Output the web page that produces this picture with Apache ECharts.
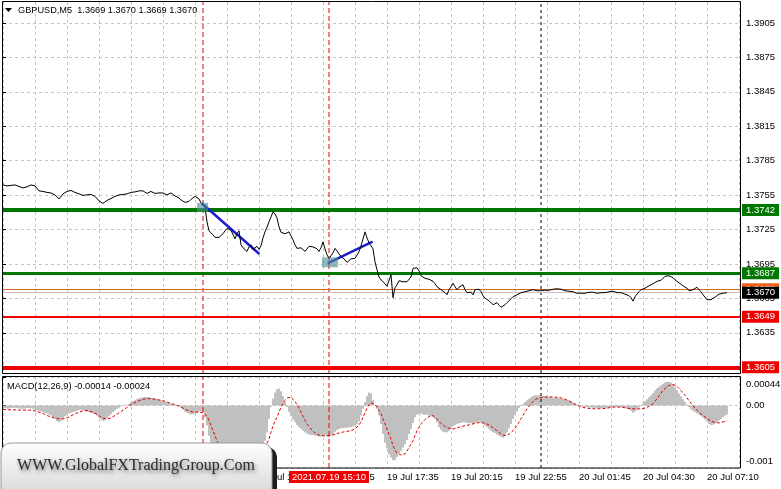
<!DOCTYPE html>
<html><head><meta charset="utf-8">
<script src="https://cdn.jsdelivr.net/npm/echarts@6/dist/echarts.min.js"></script>
<style>html,body{margin:0;padding:0;background:#fff;overflow:hidden}#c{width:781px;height:489px}</style>
</head><body><div id="c"></div>
<script>
// ---------- DATA ----------
const symbolTitle = 'GBPUSD,M5  1.3669 1.3670 1.3669 1.3670';
const macdTitle = 'MACD(12,26,9) -0.00014 -0.00024';
// bar index of each time label (M5 bars) and its text
const xLabelIdx = [0, 32, 64, 96, 128, 160, 192, 224, 256, 288, 320, 352];
const xLabels = ['19 Jul 01:35','19 Jul 04:15','19 Jul 06:55','19 Jul 09:35','19 Jul 12:15','19 Jul 14:55',
                 '19 Jul 17:35','19 Jul 20:15','19 Jul 22:55','20 Jul 01:45','20 Jul 04:30','20 Jul 07:10'];
const priceTicks = [1.3605,1.3635,1.3665,1.3695,1.3725,1.3755,1.3785,1.3815,1.3845,1.3875,1.3905];
const macdTickValues = [-0.00097, 0, 0.00044];
const macdTickLabels = ['-0.001', '0.00', '0.00044'];

// close prices, one per M5 bar
const closes = [
1.37639,1.37635,1.37630,1.37630,1.37635,1.37639,1.37639,1.37635,1.37626,1.37622,
1.37613,1.37613,1.37622,1.37630,1.37639,1.37643,1.37630,1.37613,1.37587,1.37574,
1.37582,1.37578,1.37574,1.37569,1.37569,1.37561,1.37552,1.37543,1.37517,1.37504,
1.37561,1.37578,1.37582,1.37587,1.37591,1.37578,1.37574,1.37565,1.37561,1.37552,
1.37548,1.37543,1.37552,1.37561,1.37556,1.37543,1.37539,1.37526,1.37500,1.37487,
1.37478,1.37491,1.37504,1.37517,1.37521,1.37530,1.37539,1.37543,1.37552,1.37552,
1.37556,1.37561,1.37561,1.37569,1.37574,1.37578,1.37578,1.37582,1.37587,1.37591,
1.37587,1.37574,1.37565,1.37574,1.37582,1.37574,1.37565,1.37561,1.37569,1.37578,
1.37569,1.37556,1.37552,1.37561,1.37569,1.37556,1.37543,1.37539,1.37526,1.37508,
1.37500,1.37487,1.37478,1.37495,1.37513,1.37526,1.37539,1.37530,1.37517,1.37482,
1.37465,
1.37447,1.37317,1.37239,1.37256,1.37204,1.37182,1.37173,1.37182,1.37195,1.37213,
1.37239,1.37260,1.37252,1.37243,1.37234,1.37169,1.37213,1.37239,1.37117,1.37091,
1.37104,1.37060,1.37099,1.37117,1.37078,1.37091,1.37104,1.37078,1.37108,1.37178,
1.37230,1.37269,1.37317,1.37360,1.37404,1.37386,1.37352,1.37273,1.37226,1.37234,
1.37213,1.37204,1.37230,1.37221,1.37160,1.37117,1.37086,1.37073,1.37091,1.37108,
1.37060,1.37082,1.37104,1.37121,1.37099,1.37104,1.37082,1.37060,1.37091,1.37143,
1.37082,1.37030,1.36999,1.37021,1.37047,1.37086,1.37064,1.37038,1.37017,1.37004,
1.36986,1.36964,1.36977,1.36995,1.37004,1.36999,1.37012,1.37056,1.37108,1.37169,
1.37230,1.37178,
1.37134,1.37143,1.37082,1.36969,1.36899,1.36838,1.36812,1.36799,1.36778,1.36756,
1.36765,1.36856,1.36656,1.36743,1.36769,1.36804,1.36812,1.36795,1.36799,1.36795,
1.36808,1.36838,1.36912,1.36899,1.36917,1.36890,1.36847,1.36838,1.36825,1.36834,
1.36817,1.36808,1.36799,1.36778,1.36752,1.36739,1.36726,1.36713,1.36700,1.36682,
1.36726,1.36752,1.36782,1.36752,1.36726,1.36747,1.36760,1.36769,1.36726,1.36700,
1.36717,1.36704,1.36682,1.36726,1.36743,1.36730,1.36708,1.36674,1.36652,1.36639,
1.36630,1.36617,1.36595,1.36604,1.36613,1.36591,1.36573,1.36556,1.36595,1.36613,
1.36630,1.36647,1.36665,1.36678,1.36682,1.36695,1.36700,1.36704,1.36708,1.36713,
1.36717,1.36721,1.36726,1.36721,1.36717,1.36713,1.36717,1.36726,1.36721,1.36717,
1.36721,1.36726,1.36730,1.36726,1.36734,1.36739,1.36730,1.36721,1.36717,1.36721,
1.36713,1.36717,1.36708,1.36704,1.36695,1.36691,1.36695,1.36700,1.36695,1.36700,
1.36704,1.36700,1.36704,1.36700,1.36695,1.36691,1.36700,1.36704,1.36700,1.36704,
1.36708,1.36713,1.36713,1.36704,1.36700,1.36695,1.36700,1.36691,1.36687,1.36682,
1.36674,1.36656,1.36626,1.36665,1.36687,1.36708,1.36726,1.36730,1.36739,1.36743,
1.36760,1.36769,1.36778,1.36795,1.36799,1.36804,1.36808,1.36825,1.36843,1.36856,
1.36847,1.36843,1.36830,1.36812,1.36799,1.36786,1.36769,1.36760,1.36752,1.36739,
1.36717,1.36704,1.36726,1.36739,1.36747,1.36726,1.36708,1.36682,1.36665,1.36639,
1.36626,1.36639,1.36652,1.36661,1.36678,1.36687,1.36691,1.36695,1.36700,1.36700
];

// MACD main (histogram) per bar
const macdMain = [
-42e-6,-42e-6,-47e-6,-47e-6,-42e-6,-42e-6,-37e-6,-42e-6,-47e-6,-52e-6,-52e-6,-47e-6,-42e-6,-42e-6,-47e-6,-52e-6,
-63e-6,-73e-6,-84e-6,-94e-6,-104e-6,-115e-6,-125e-6,-136e-6,-157e-6,-183e-6,-209e-6,-240e-6,-261e-6,-235e-6,-198e-6,-167e-6,-146e-6,
-125e-6,-115e-6,-104e-6,-94e-6,-84e-6,-73e-6,-68e-6,-73e-6,-84e-6,-94e-6,-104e-6,-115e-6,-125e-6,-136e-6,-157e-6,-188e-6,-219e-6,-240e-6,-230e-6,-198e-6,-167e-6,
-136e-6,-104e-6,-78e-6,-52e-6,-37e-6,-21e-6,-10e-6,0,10e-6,26e-6,47e-6,68e-6,84e-6,99e-6,110e-6,120e-6,125e-6,131e-6,131e-6,125e-6,120e-6,115e-6,110e-6,99e-6,89e-6,
78e-6,68e-6,57e-6,47e-6,37e-6,26e-6,21e-6,10e-6,5e-6,0,-31e-6,-63e-6,-94e-6,-115e-6,-131e-6,-141e-6,-136e-6,-125e-6,-110e-6,-94e-6,-84e-6,-104e-6,
-183e-6,-313e-6,-470e-6,-574e-6,-653e-6,-721e-6,-773e-6,-809e-6,-825e-6,-825e-6,-815e-6,-799e-6,-783e-6,-773e-6,-773e-6,-783e-6,-794e-6,-794e-6,-809e-6,-836e-6,
-846e-6,-851e-6,-851e-6,-846e-6,-836e-6,-825e-6,-809e-6,-794e-6,-757e-6,-653e-6,-548e-6,-418e-6,-209e-6,-26e-6,104e-6,198e-6,251e-6,261e-6,219e-6,146e-6,52e-6,-26e-6,
-104e-6,-167e-6,-219e-6,-261e-6,-303e-6,-339e-6,-366e-6,-392e-6,-418e-6,-439e-6,-449e-6,-460e-6,-460e-6,-470e-6,-475e-6,-480e-6,-486e-6,-470e-6,-460e-6,-480e-6,-496e-6,-470e-6,-444e-6,
-407e-6,-381e-6,-366e-6,-355e-6,-350e-6,-345e-6,-345e-6,-339e-6,-334e-6,-324e-6,-313e-6,-287e-6,-251e-6,-157e-6,-52e-6,52e-6,146e-6,198e-6,
183e-6,78e-6,0,-52e-6,-157e-6,-287e-6,-444e-6,-574e-6,-668e-6,-757e-6,-809e-6,-851e-6,-846e-6,-799e-6,-742e-6,-705e-6,-653e-6,-601e-6,-538e-6,-444e-6,
-366e-6,-272e-6,-183e-6,-146e-6,-131e-6,-131e-6,-141e-6,-146e-6,-146e-6,-157e-6,-167e-6,-183e-6,-209e-6,-261e-6,-339e-6,-381e-6,-407e-6,-418e-6,-418e-6,-392e-6,
-366e-6,-324e-6,-303e-6,-287e-6,-277e-6,-272e-6,-261e-6,-261e-6,-272e-6,-277e-6,-277e-6,-287e-6,-272e-6,-261e-6,-251e-6,-261e-6,-287e-6,-313e-6,-339e-6,-366e-6,
-392e-6,-418e-6,-428e-6,-449e-6,-470e-6,-486e-6,-501e-6,-470e-6,-418e-6,-355e-6,-287e-6,-209e-6,-146e-6,-94e-6,-42e-6,-10e-6,21e-6,52e-6,78e-6,104e-6,
131e-6,146e-6,157e-6,157e-6,157e-6,151e-6,146e-6,141e-6,136e-6,131e-6,125e-6,120e-6,115e-6,115e-6,110e-6,104e-6,99e-6,94e-6,89e-6,78e-6,
63e-6,42e-6,26e-6,16e-6,5e-6,-5e-6,-16e-6,-21e-6,-26e-6,-31e-6,-31e-6,-37e-6,-37e-6,-42e-6,-42e-6,-42e-6,-42e-6,-37e-6,-37e-6,-31e-6,
-26e-6,-26e-6,-21e-6,-21e-6,-26e-6,-26e-6,-31e-6,-37e-6,-47e-6,-63e-6,-84e-6,-115e-6,-94e-6,-63e-6,-31e-6,0,31e-6,63e-6,94e-6,125e-6,
157e-6,193e-6,230e-6,261e-6,287e-6,313e-6,334e-6,355e-6,366e-6,366e-6,355e-6,324e-6,282e-6,235e-6,183e-6,141e-6,94e-6,52e-6,10e-6,-26e-6,
-63e-6,-84e-6,-104e-6,-120e-6,-146e-6,-167e-6,-193e-6,-219e-6,-251e-6,-287e-6,-303e-6,-298e-6,-282e-6,-261e-6,-235e-6,-209e-6,-183e-6,-160e-6,-140e-6
];

// MACD signal line per bar
const macdSignal = [
-63e-6,-63e-6,-68e-6,-68e-6,-68e-6,-68e-6,-68e-6,-68e-6,-73e-6,-73e-6,-73e-6,-73e-6,-73e-6,-73e-6,-73e-6,-78e-6,
-84e-6,-94e-6,-104e-6,-115e-6,-125e-6,-141e-6,-157e-6,-167e-6,
-178e-6,-188e-6,-198e-6,-204e-6,-209e-6,-209e-6,-209e-6,-204e-6,-193e-6,
-178e-6,-162e-6,-146e-6,-131e-6,-115e-6,-104e-6,-94e-6,-84e-6,-78e-6,-78e-6,-84e-6,-94e-6,-104e-6,-120e-6,
-141e-6,-162e-6,-183e-6,-198e-6,-209e-6,-209e-6,-204e-6,
-193e-6,-178e-6,-157e-6,-136e-6,-115e-6,-94e-6,-73e-6,-52e-6,-31e-6,
-10e-6,10e-6,31e-6,47e-6,63e-6,73e-6,84e-6,94e-6,99e-6,104e-6,104e-6,104e-6,99e-6,94e-6,89e-6,84e-6,
78e-6,73e-6,63e-6,52e-6,42e-6,31e-6,21e-6,10e-6,0,-10e-6,
-26e-6,-42e-6,-57e-6,-73e-6,-84e-6,-94e-6,-99e-6,-104e-6,-104e-6,-104e-6,-110e-6,-115e-6,
-131e-6,-167e-6,-235e-6,-313e-6,-392e-6,-470e-6,-548e-6,-601e-6,-653e-6,-689e-6,-731e-6,-757e-6,-783e-6,-799e-6,-809e-6,-820e-6,-825e-6,-830e-6,-836e-6,-836e-6,
-836e-6,-836e-6,-836e-6,-830e-6,-825e-6,-809e-6,-794e-6,-768e-6,-742e-6,-700e-6,-653e-6,-585e-6,-522e-6,-418e-6,-313e-6,-245e-6,-183e-6,-104e-6,-26e-6,26e-6,78e-6,115e-6,131e-6,
125e-6,104e-6,63e-6,10e-6,-42e-6,-104e-6,-167e-6,-230e-6,-287e-6,-324e-6,-366e-6,-397e-6,-428e-6,-449e-6,-460e-6,-465e-6,-470e-6,-470e-6,-470e-6,-470e-6,
-465e-6,-460e-6,-449e-6,-439e-6,-428e-6,-418e-6,-413e-6,-407e-6,-402e-6,-397e-6,-392e-6,-381e-6,-366e-6,-339e-6,-303e-6,-251e-6,-188e-6,-115e-6,-42e-6,10e-6,
42e-6,26e-6,10e-6,-26e-6,-78e-6,-131e-6,-209e-6,-287e-6,-366e-6,-444e-6,-522e-6,-627e-6,-689e-6,-742e-6,-762e-6,-768e-6,-768e-6,-752e-6,-710e-6,-653e-6,
-601e-6,-548e-6,-470e-6,-392e-6,-339e-6,-287e-6,-251e-6,-219e-6,-193e-6,-172e-6,-157e-6,-157e-6,-178e-6,-209e-6,-245e-6,-277e-6,-303e-6,-324e-6,-345e-6,-355e-6,
-366e-6,-366e-6,-355e-6,-350e-6,-339e-6,-329e-6,-319e-6,-313e-6,-308e-6,-303e-6,-292e-6,-287e-6,-277e-6,-272e-6,-266e-6,-261e-6,-266e-6,-277e-6,-287e-6,-303e-6,
-324e-6,-345e-6,-366e-6,-392e-6,-418e-6,-444e-6,-465e-6,-470e-6,-460e-6,-444e-6,-418e-6,-392e-6,-355e-6,-313e-6,-261e-6,-209e-6,-157e-6,-104e-6,-52e-6,-10e-6,
26e-6,63e-6,89e-6,104e-6,115e-6,120e-6,125e-6,131e-6,131e-6,131e-6,131e-6,131e-6,131e-6,125e-6,120e-6,115e-6,104e-6,94e-6,84e-6,68e-6,
52e-6,37e-6,21e-6,5e-6,-10e-6,-21e-6,-31e-6,-37e-6,-42e-6,-47e-6,-52e-6,-52e-6,-52e-6,-52e-6,-52e-6,-52e-6,-52e-6,-47e-6,-42e-6,-37e-6,
-31e-6,-26e-6,-26e-6,-26e-6,-26e-6,-26e-6,-31e-6,-37e-6,-42e-6,-47e-6,-52e-6,-52e-6,-57e-6,-57e-6,-57e-6,-52e-6,-52e-6,-42e-6,-31e-6,-16e-6,
0,26e-6,63e-6,104e-6,146e-6,188e-6,230e-6,261e-6,287e-6,308e-6,319e-6,324e-6,313e-6,292e-6,261e-6,230e-6,193e-6,157e-6,115e-6,73e-6,
31e-6,-5e-6,-42e-6,-73e-6,-104e-6,-131e-6,-157e-6,-183e-6,-204e-6,-225e-6,-240e-6,-256e-6,-266e-6,-272e-6,-272e-6,-266e-6,-256e-6,-245e-6,-240e-6
];

// horizontal levels drawn on the chart
const levelPrices = [1.3742, 1.3687, 1.3649, 1.3605];
const askPrice = 1.3673;
const bidPrice = 1.3670;
// vertical markers (bar indices)
const markerBars = [100, 163];
const separatorBar = 269;
const selectedBar = 163;
const selectedTimeText = '2021.07.19 15:10';
// trend lines [[startBar,startPrice],[endBar,endPrice]]
const trendLines = [
  [[99.35, 1.37479], [128.2, 1.37037]],
  [[162.3, 1.36956], [184.8, 1.37144]]
];
// square markers
const boxBars = [99.75, 163.5];
const boxPrices = [1.37443, 1.36965];

// ---------- STYLES ----------
const FONT = '"Liberation Sans", Arial, sans-serif';
const GRID_COLOR = '#c4c4c4';
const LEVEL_STYLE = [
  {color: '#007800', width: 4},
  {color: '#007800', width: 3},
  {color: '#f00000', width: 2},
  {color: '#f00000', width: 4}
];
const BOX_SIZES = [[11, 9], [16, 10]];
const PRICE_MIN = 1.36, PRICE_MAX = 1.39233;
const MACD_MIN = macdTickValues[0], MACD_MAX = macdTickValues[2];

function priceLabel(bg, txt) {
  return {show: true, position: 'end', distance: 2, formatter: txt, color: '#fff', backgroundColor: bg,
          padding: [1, 4, 1, 4], fontSize: 9.5, fontFamily: FONT, lineHeight: 10};
}

// horizontal levels and trend lines as markLines on the price series
const priceMarks = [];
levelPrices.forEach((p, k) => priceMarks.push({yAxis: p, lineStyle: {color: LEVEL_STYLE[k].color, width: LEVEL_STYLE[k].width, type: 'solid'},
  label: priceLabel(LEVEL_STYLE[k].color, p.toFixed(4))}));
priceMarks.push({yAxis: askPrice, lineStyle: {color: '#d2691e', width: 1, type: 'solid'}, label: priceLabel('#f06018', askPrice.toFixed(4))});
priceMarks.push({yAxis: bidPrice, lineStyle: {color: '#cbbfcb', width: 1, type: 'solid'}, label: priceLabel('#000', bidPrice.toFixed(4))});
trendLines.forEach(t => priceMarks.push([
  {coord: t[0], lineStyle: {color: '#1c1cd2', width: 2.5, type: 'solid'}, label: {show: false}},
  {coord: t[1], lineStyle: {color: '#1c1cd2', width: 2.5, type: 'solid'}}
]));

// vertical marker lines drawn as two-point line series spanning each panel
function vLine(bar, gridIdx, color, dash) {
  const lo = gridIdx === 0 ? PRICE_MIN : MACD_MIN, hi = gridIdx === 0 ? PRICE_MAX : MACD_MAX;
  return {type: 'line', xAxisIndex: gridIdx, yAxisIndex: gridIdx, z: 4, silent: true, symbol: 'none', showSymbol: false,
          data: [[bar, lo], [bar, hi]], lineStyle: {color: color, width: 1, type: dash}};
}
const vSeries = [];
[0, 1].forEach(g => {
  markerBars.forEach(b => vSeries.push(vLine(b, g, '#ee0000', [5, 3])));
  vSeries.push(vLine(separatorBar, g, '#000000', [3, 3]));
});

const splitLineStyle = {show: true, lineStyle: {color: GRID_COLOR, type: [3, 3], width: 1}};

const option = {
  animation: false,
  backgroundColor: '#ffffff',
  textStyle: {fontFamily: FONT},
  grid: [
    {left: 3, right: 41, top: 2, height: 371, outerBoundsMode: 'none', containLabel: false},
    {left: 3, right: 41, top: 377, height: 91, outerBoundsMode: 'none', containLabel: false}
  ],
  xAxis: [
    {type: 'value', gridIndex: 0, min: 0, max: 368.5, interval: 16,
     axisLine: {show: false}, axisTick: {show: false}, axisLabel: {show: false}, splitLine: splitLineStyle},
    {type: 'value', gridIndex: 1, min: 0, max: 368.5, interval: 16,
     axisLine: {show: false}, axisTick: {show: false},
     axisLabel: {show: true, customValues: xLabelIdx, align: 'left', margin: 4, fontSize: 9.5, color: '#000', fontFamily: FONT,
       formatter: v => { const k = xLabelIdx.indexOf(Math.round(v)); return k >= 0 ? xLabels[k] : ''; }},
     splitLine: splitLineStyle}
  ],
  yAxis: [
    {type: 'value', gridIndex: 0, position: 'right', min: PRICE_MIN, max: PRICE_MAX, scale: true,
     axisLine: {show: false},
     axisTick: {show: true, customValues: priceTicks, length: 3, lineStyle: {color: '#000'}},
     axisLabel: {show: true, customValues: priceTicks, margin: 6, fontSize: 9.5, color: '#000', fontFamily: FONT,
       formatter: v => v.toFixed(4)},
     splitLine: splitLineStyle},
    {type: 'value', gridIndex: 1, position: 'right', min: MACD_MIN, max: MACD_MAX, scale: true,
     axisLine: {show: false},
     axisTick: {show: true, customValues: macdTickValues, length: 3, lineStyle: {color: '#000'}},
     axisLabel: {show: true, customValues: macdTickValues, margin: 6, fontSize: 9.5, color: '#000', fontFamily: FONT,
       showMinLabel: true, showMaxLabel: true,
       formatter: v => {
         const k = macdTickValues.indexOf(v);
         if (k === 2) return '{t|' + macdTickLabels[k] + '}';
         if (k === 0) return '{b|' + macdTickLabels[k] + '}';
         return k >= 0 ? macdTickLabels[k] : '';
       },
       rich: {t: {padding: [15, 0, 0, 0], fontSize: 9.5, fontFamily: FONT, color: '#000'},
              b: {padding: [0, 0, 13, 0], fontSize: 9.5, fontFamily: FONT, color: '#000'}}},
     splitLine: splitLineStyle}
  ],
  series: [
    {type: 'bar', name: 'MACD', xAxisIndex: 1, yAxisIndex: 1, z: 2, silent: true,
     data: macdMain.map((v, i) => [i, v]), barWidth: 2, itemStyle: {color: '#c0c0c0'}},
    ...vSeries,
    {type: 'line', name: 'GBPUSD', xAxisIndex: 0, yAxisIndex: 0, z: 5,
     data: closes.map((c, i) => [i, c]), symbol: 'none', showSymbol: false,
     lineStyle: {color: '#000', width: 1},
     markLine: {silent: true, animation: false, symbol: ['none', 'none'], precision: 5, label: {show: false}, data: priceMarks}},
    {type: 'scatter', xAxisIndex: 0, yAxisIndex: 0, z: 7, symbol: 'rect', silent: true,
     data: boxBars.map((b, k) => ({value: [b, boxPrices[k]], symbolSize: BOX_SIZES[k]})),
     itemStyle: {color: 'rgba(80,142,152,0.78)'}},
    {type: 'line', name: 'Signal', xAxisIndex: 1, yAxisIndex: 1, z: 5, silent: true,
     data: macdSignal.map((v, i) => [i, v]), symbol: 'none', showSymbol: false,
     lineStyle: {color: '#e00000', width: 1, type: [3, 2]},
     markLine: {silent: true, animation: false, symbol: ['none', 'none'], z: 1,
       lineStyle: {color: 'rgba(255,255,255,0)', width: 1, type: 'solid'},
       data: [{xAxis: selectedBar, label: {show: true, position: 'start', distance: 3, formatter: selectedTimeText, color: '#ffffff',
         backgroundColor: '#f00000', padding: [1, 3, 1, 3], fontSize: 9.5, fontFamily: FONT, lineHeight: 10, opacity: 1}}]}}
  ],
  graphic: [
    {type: 'rect', silent: true, z: 50, shape: {x: 2.5, y: 1.5, width: 738, height: 372},
     style: {fill: 'none', stroke: '#000', lineWidth: 1}},
    {type: 'rect', silent: true, z: 50, shape: {x: 2.5, y: 376.5, width: 738, height: 91.5},
     style: {fill: 'none', stroke: '#000', lineWidth: 1}},
    {type: 'polygon', silent: true, z: 60, shape: {points: [[5, 8], [12, 8], [8.5, 12]]}, style: {fill: '#000'}},
    {type: 'text', silent: true, z: 60, style: {text: symbolTitle, x: 18, y: 10, verticalAlign: 'middle',
      font: '9.2px "Liberation Sans", Arial, sans-serif', fill: '#000'}},
    {type: 'text', silent: true, z: 60, style: {text: macdTitle, x: 7, y: 386, verticalAlign: 'middle',
      font: '9.3px "Liberation Sans", Arial, sans-serif', fill: '#000'}},
    {type: 'rect', silent: true, z: 100, shape: {x: 5, y: 447, width: 272, height: 60, r: 10}, style: {fill: '#1e1e1e'}},
    {type: 'rect', silent: true, z: 101, shape: {x: 1, y: 443, width: 271, height: 60, r: 10},
     style: {fill: {type: 'linear', x: 0, y: 0, x2: 0, y2: 1,
       colorStops: [{offset: 0, color: '#ffffff'}, {offset: 1, color: '#d2d2d2'}]}, stroke: '#9a9a9a', lineWidth: 1}},
    {type: 'text', silent: true, z: 102, style: {text: 'WWW.GlobalFXTradingGroup.Com', x: 136, y: 466,
      align: 'center', verticalAlign: 'middle', font: '16px "Liberation Serif", "Times New Roman", serif',
      fill: '#2a2a2a', textShadowColor: 'rgba(0,0,0,0.6)', textShadowBlur: 4, textShadowOffsetX: 1, textShadowOffsetY: 2}}
  ]
};

const chart = echarts.init(document.getElementById('c'), null, {renderer: 'canvas', width: 781, height: 489});
chart.setOption(option);
</script>
</body></html>
